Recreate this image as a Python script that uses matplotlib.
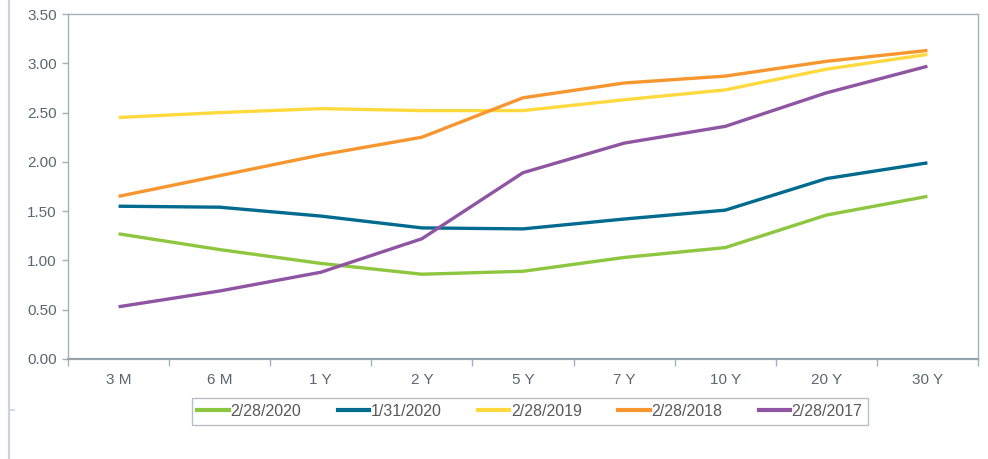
import matplotlib
matplotlib.use("Agg")
import matplotlib.pyplot as plt
from matplotlib.lines import Line2D

categories = ["3 M", "6 M", "1 Y", "2 Y", "5 Y", "7 Y", "10 Y", "20 Y", "30 Y"]
s_2020_02 = [1.27, 1.11, 0.97, 0.86, 0.89, 1.03, 1.13, 1.46, 1.65]
s_2020_01 = [1.55, 1.54, 1.45, 1.33, 1.32, 1.42, 1.51, 1.83, 1.99]
s_2019 = [2.45, 2.50, 2.54, 2.52, 2.52, 2.63, 2.73, 2.94, 3.09]
s_2018 = [1.65, 1.86, 2.07, 2.25, 2.65, 2.80, 2.87, 3.02, 3.13]
s_2017 = [0.53, 0.69, 0.88, 1.22, 1.89, 2.19, 2.36, 2.70, 2.97]
labels = ["2/28/2020", "1/31/2020", "2/28/2019", "2/28/2018", "2/28/2017"]
yticks = [0.0, 0.5, 1.0, 1.5, 2.0, 2.5, 3.0, 3.5]

series = [s_2020_02, s_2020_01, s_2019, s_2018, s_2017]
colors = ["#8DC63F", "#006B8F", "#FFD93D", "#F7962F", "#8F55A3"]

plt.rcParams['font.family'] = ['Liberation Sans', 'DejaVu Sans']
fig = plt.figure(figsize=(9.88, 4.59), dpi=100)
ax = fig.add_axes([68/988, 1-359/459, (978-68)/988, (359-14)/459])

x = list(range(len(categories)))
for vals, c, lab in zip(series, colors, labels):
    ax.plot(x, vals, color=c, lw=2.4, solid_capstyle='butt', label=lab)

ax.set_xlim(-0.5, len(categories) - 0.5)
ax.set_ylim(0, 3.5)
ax.set_yticks(yticks)
ax.set_yticklabels([f"{v:.2f}" for v in yticks])
ax.set_xticks(x)
ax.set_xticklabels(categories)
ax.set_xticks([i - 0.5 for i in range(len(categories) + 1)], minor=True)
ax.tick_params(axis='x', which='major', length=0, pad=10, labelsize=11, labelcolor='#5B6770')
ax.tick_params(axis='x', which='minor', length=5, direction='out', color='#A6B0B8', width=1)
ax.tick_params(axis='y', length=4, direction='out', color='#A6B0B8', width=1, labelsize=11, labelcolor='#5B6770', pad=4)
for side, sp in ax.spines.items():
    sp.set_color('#A6B0B8')
    sp.set_linewidth(1.0)
ax.spines['bottom'].set_linewidth(1.6)
ax.spines['bottom'].set_color('#98A4AE')

leg_handles = [Line2D([0], [0], color=c, lw=3) for c in colors]
leg = fig.legend(leg_handles, labels, loc='center', bbox_to_anchor=(530/988, 1-411.5/459),
                 ncol=5, frameon=True, fancybox=False, edgecolor='#A6B0B8',
                 fontsize=11.5, handlelength=1.95, handletextpad=0.1, columnspacing=2.3,
                 borderpad=0.35, borderaxespad=0, labelcolor='#595959')
leg.get_frame().set_linewidth(1.0)

# left border line of the chart area
fig.add_artist(Line2D([9/988, 9/988], [0, 1], color='#CBD3DF', lw=1.6, transform=fig.transFigure))
fig.add_artist(Line2D([9/988, 14/988], [1-410/459, 1-410/459], color='#CBD3DF', lw=1.2, transform=fig.transFigure))

fig.savefig("out.png", dpi=100)
